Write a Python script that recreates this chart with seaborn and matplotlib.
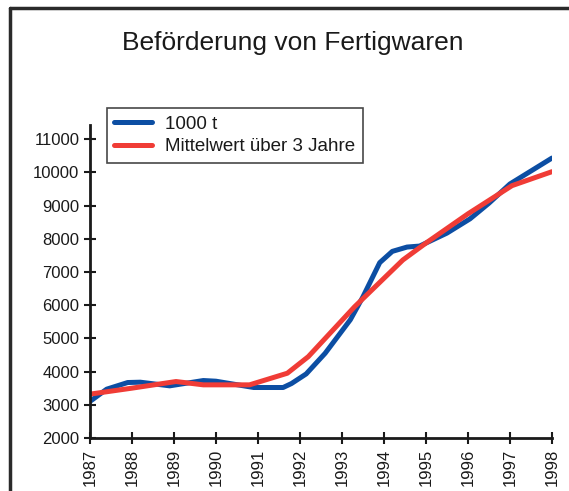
import pandas as pd
import matplotlib
matplotlib.use("Agg")
import matplotlib.pyplot as plt
from matplotlib.lines import Line2D
import seaborn as sns

# ---------------------------------------------
# DATA
# ---------------------------------------------
jahr_ist = [1987.0, 1987.4, 1987.9, 1988.2, 1988.9, 1989.7, 1990.0, 1990.9,
            1991.6, 1991.8, 1992.15, 1992.6, 1993.2, 1993.5, 1993.9, 1994.2,
            1994.55, 1994.85, 1995.5, 1996.05, 1996.5, 1997.0, 1998.0]
wert_ist = [3100, 3470, 3670, 3680, 3570, 3730, 3710, 3520,
            3520, 3640, 3930, 4550, 5560, 6250, 7280, 7620,
            7750, 7780, 8170, 8600, 9070, 9650, 10430]

jahr_mittel = [1987.0, 1988.0, 1989.05, 1989.7, 1990.8, 1991.7, 1992.2,
               1993.3, 1994.45, 1995.0, 1996.0, 1997.05, 1998.0]
wert_mittel = [3320, 3500, 3700, 3600, 3600, 3950, 4450,
               5950, 7360, 7870, 8750, 9600, 10020]

jahre = list(range(1987, 1999))
y_ticks = list(range(2000, 11001, 1000))

titel = "Beförderung von Fertigwaren"
label_ist = "1000 t"
label_mittel = "Mittelwert über 3 Jahre"

df = pd.concat([
    pd.DataFrame({"Jahr": jahr_ist, "Wert": wert_ist, "Reihe": label_ist}),
    pd.DataFrame({"Jahr": jahr_mittel, "Wert": wert_mittel, "Reihe": label_mittel}),
])

# ---------------------------------------------
# PLOT
# ---------------------------------------------
sns.set_style("white")
plt.rcParams["font.family"] = ["Liberation Sans", "DejaVu Sans"]
plt.rcParams["text.color"] = "#1a1a1a"
plt.rcParams["xtick.color"] = "#1a1a1a"
plt.rcParams["ytick.color"] = "#1a1a1a"

fig = plt.figure(figsize=(5.69, 4.91), dpi=100)
ax = fig.add_axes([0.158, 0.108, 0.812, 0.637])

sns.lineplot(data=df, x="Jahr", y="Wert", hue="Reihe", sort=False,
             palette={label_ist: "#0c4ea3", label_mittel: "#f03c36"},
             linewidth=3.6, ax=ax, legend=False)

ax.set_xlim(1987, 1998)
ax.set_ylim(2000, 11420)
ax.set_xticks(jahre)
ax.set_xticklabels([str(j) for j in jahre], rotation=90, fontsize=12)
ax.set_yticks(y_ticks)
ax.set_yticklabels([str(v) for v in y_ticks], fontsize=12)
ax.set_xlabel("")
ax.set_ylabel("")
ax.tick_params(bottom=True, left=True, direction="inout", length=9,
               width=1.5, color="#1a1a1a", pad=3)

for side in ["top", "right"]:
    ax.spines[side].set_visible(False)
for side in ["left", "bottom"]:
    ax.spines[side].set_color("#1a1a1a")
    ax.spines[side].set_linewidth(2)

handles = [Line2D([], [], color="#0c4ea3", lw=3.6),
           Line2D([], [], color="#f03c36", lw=3.6)]
leg = fig.legend(handles, [label_ist, label_mittel], loc="upper left",
                 bbox_to_anchor=(0.188, 0.780), fontsize=13.5, frameon=True,
                 fancybox=False, edgecolor="#1a1a1a", handlelength=2.0,
                 borderpad=0.4, labelspacing=0.3, handletextpad=0.7,
                 borderaxespad=0)
leg.get_frame().set_linewidth(1.2)

fig.text(0.515, 0.913, titel, ha="center", va="center", fontsize=19)

# outer frame (top and left only)
fig.add_artist(Line2D([0.018, 1.0], [0.984, 0.984], color="#2a2a2a", lw=2.5,
                      transform=fig.transFigure))
fig.add_artist(Line2D([0.018, 0.018], [0.0, 0.984], color="#2a2a2a", lw=2.5,
                      transform=fig.transFigure))

fig.savefig("out.png", dpi=100)
